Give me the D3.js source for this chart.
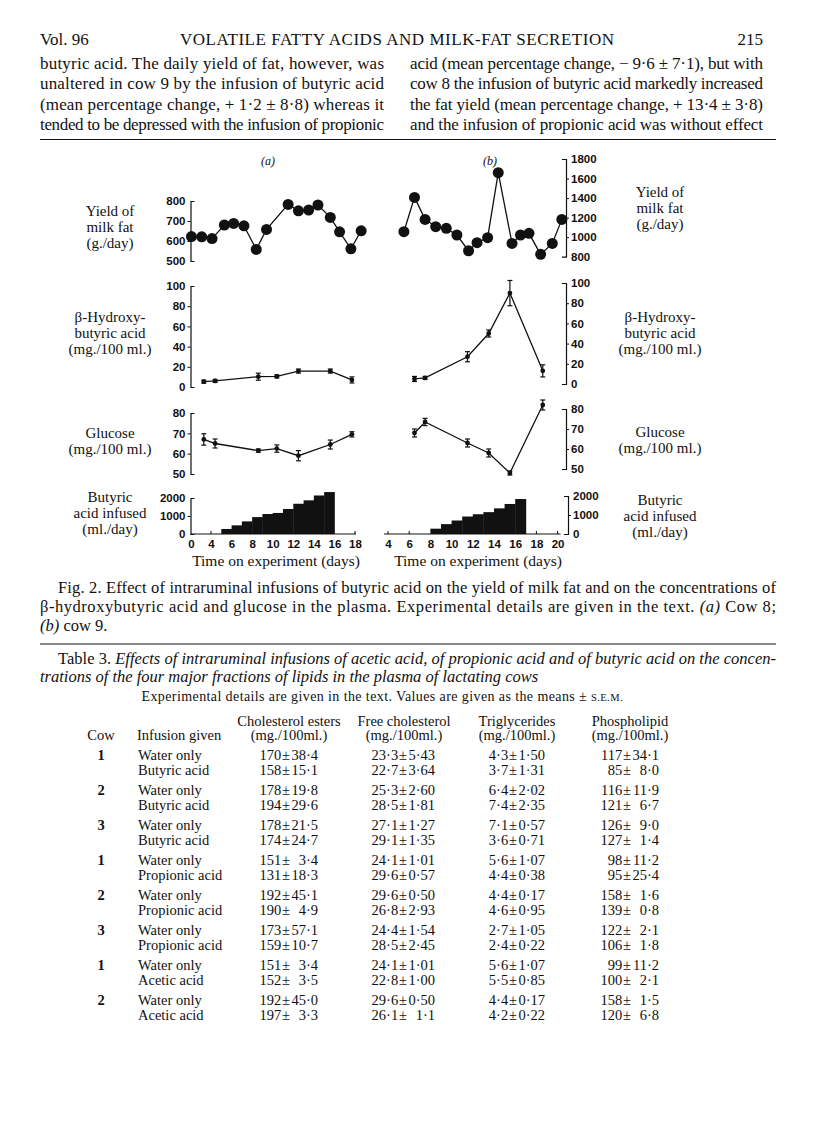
<!DOCTYPE html>
<html>
<head>
<meta charset="utf-8">
<script src="https://cdn.jsdelivr.net/npm/d3@7"></script>
<style>
  body { margin: 0; background: #fff; }
  text { fill: #111; }
  .serif { font-family: "Liberation Serif", "Times New Roman", serif; }
  .tick text { font-family: "Liberation Sans", Arial, sans-serif; font-weight: bold; font-size: 11.5px; fill: #111; }
  .domain, .tick line { stroke: #111; }
</style>
</head>
<body>
<svg id="page" width="816" height="1138"></svg>
<script>
/*
  Page 215, Vol. 96: running text, Fig. 2 (cows 8 and 9) and Table 3.
  Values of the figure.
*/

// ---- Fig. 2 (a), cow 8 ----
const yieldDaysA = [2.1, 3.1, 4.1, 5.3, 6.2, 7.2, 8.4, 9.4, 11.5, 12.5, 13.5, 14.4, 15.6, 16.5, 17.6, 18.6];
const yieldA = [622, 621, 612, 680, 688, 676, 558, 658, 783, 751, 755, 780, 718, 646, 561, 651];
const plasmaDaysA = [3.3, 4.4, 8.6, 10.4, 12.5, 15.6, 17.7];
const hydroxyA = [5.3, 6, 10.2, 10.5, 15.8, 15.8, 7];
const hydroxyErrA = [1.5, 1.5, 3.5, 1.5, 2, 2, 3];
const glucoseA = [67, 65, 61.5, 62.5, 59, 64.5, 69.5];
const glucoseErrA = [2.8, 2.2, 0.8, 1.8, 2.5, 2.2, 1.3];
const infusionDaysA = [5, 6, 7, 8, 9, 10, 11, 12, 13, 14, 15];
const infusedA = [280, 480, 700, 940, 1110, 1170, 1390, 1680, 1870, 2140, 2330];

// ---- Fig. 2 (b), cow 9 ----
const yieldDaysB = [5.5, 6.5, 7.5, 8.5, 9.5, 10.5, 11.6, 12.4, 13.4, 14.4, 15.7, 16.5, 17.3, 18.4, 19.5, 20.4];
const yieldB = [1056, 1407, 1182, 1107, 1090, 1022, 861, 943, 995, 1660, 936, 1022, 1039, 824, 936, 1182];
const plasmaDaysB = [6.5, 7.5, 11.5, 13.5, 15.5, 18.6];
const hydroxyB = [5, 6, 27, 50, 90, 13];
const hydroxyErrB = [2.5, 1.5, 5, 3.5, 12.5, 6];
const glucoseB = [68, 73.5, 63, 58, 48, 82];
const glucoseErrB = [2, 1.8, 2, 2, 1, 2.5];
const infusionDaysB = [8, 9, 10, 11, 12, 13, 14, 15, 16];
const infusedB = [280, 520, 710, 920, 1040, 1150, 1350, 1580, 1840];

// ---- tick labels ----
const dayTicksA = [4, 6, 8, 10, 12, 14, 16, 18];
const dayTicksB = [4, 6, 8, 10, 12, 14, 16, 18, 20];
const upTicksA = [4, 18];
const upTicksB = [4, 6, 18, 20];
const yieldTicksA = [500, 600, 700, 800];
const yieldTicksB = [800, 1000, 1200, 1400, 1600, 1800];
const hydroxyTicks = [0, 20, 40, 60, 80, 100];
const glucoseTicks = [50, 60, 70, 80];
const infusedTicks = [0, 1000, 2000];

// ---- text ----
const bodyLeft = [
  'butyric acid. The daily yield of fat, however, was',
  'unaltered in cow 9 by the infusion of butyric acid',
  '(mean percentage change, + 1·2 ± 8·8) whereas it',
  'tended to be depressed with the infusion of propionic'
];
const bodyRight = [
  'acid (mean percentage change, − 9·6 ± 7·1), but with',
  'cow 8 the infusion of butyric acid markedly increased',
  'the fat yield (mean percentage change, + 13·4 ± 3·8)',
  'and the infusion of propionic acid was without effect'
];
const labelsLeft = [
  ['Yield of', 'milk fat', '(g./day)'],
  ['β-Hydroxy-', 'butyric acid', '(mg./100 ml.)'],
  ['Glucose', '(mg./100 ml.)'],
  ['Butyric', 'acid infused', '(ml./day)']
];

// ---- Table 3 ----
const tableColumns = ['Cholesterol esters', 'Free cholesterol', 'Triglycerides', 'Phospholipid'];
const tableUnits = '(mg./100ml.)';
const rowCow = ['1', '', '2', '', '3', '', '1', '', '2', '', '3', '', '1', '', '2', ''];
const rowInfusion = ['Water only', 'Butyric acid', 'Water only', 'Butyric acid', 'Water only', 'Butyric acid',
  'Water only', 'Propionic acid', 'Water only', 'Propionic acid', 'Water only', 'Propionic acid',
  'Water only', 'Acetic acid', 'Water only', 'Acetic acid'];
const cholEstersMean = ['170', '158', '178', '194', '178', '174', '151', '131', '192', '190', '173', '159', '151', '152', '192', '197'];
const cholEstersSem = ['38·4', '15·1', '19·8', '29·6', '21·5', '24·7', '3·4', '18·3', '45·1', '4·9', '57·1', '10·7', '3·4', '3·5', '45·0', '3·3'];
const freeCholMean = ['23·3', '22·7', '25·3', '28·5', '27·1', '29·1', '24·1', '29·6', '29·6', '26·8', '24·4', '28·5', '24·1', '22·8', '29·6', '26·1'];
const freeCholSem = ['5·43', '3·64', '2·60', '1·81', '1·27', '1·35', '1·01', '0·57', '0·50', '2·93', '1·54', '2·45', '1·01', '1·00', '0·50', '1·1'];
const trigMean = ['4·3', '3·7', '6·4', '7·4', '7·1', '3·6', '5·6', '4·4', '4·4', '4·6', '2·7', '2·4', '5·6', '5·5', '4·4', '4·2'];
const trigSem = ['1·50', '1·31', '2·02', '2·35', '0·57', '0·71', '1·07', '0·38', '0·17', '0·95', '1·05', '0·22', '1·07', '0·85', '0·17', '0·22'];
const phosMean = ['117', '85', '116', '121', '126', '127', '98', '95', '158', '139', '122', '106', '99', '100', '158', '120'];
const phosSem = ['34·1', '8·0', '11·9', '6·7', '9·0', '1·4', '11·2', '25·4', '1·6', '0·8', '2·1', '1·8', '11·2', '2·1', '1·5', '6·8'];


const dom = {};
dom.svg = d3.select('#page');

/**
 * Plain serif text line, optionally stretched to a justified width
 */
function addText(x, y, str, size, o = {}) {
  const t = dom.svg.append('text')
    .attr('class', 'serif')
    .attr('x', x)
    .attr('y', y)
    .attr('font-size', size)
    .attr('text-anchor', o.anchor || 'start')
    .text(str);
  if (o.width) t.attr('textLength', o.width).attr('lengthAdjust', 'spacing');
  if (o.italic) t.attr('font-style', 'italic');
  if (o.weight) t.attr('font-weight', o.weight);
  return t;
}

function rule(y) {
  dom.svg.append('line')
    .attr('x1', 40).attr('x2', 776)
    .attr('y1', y).attr('y2', y)
    .attr('stroke', '#111').attr('stroke-width', 1);
}

/*
 * Running head and body text
 */
addText(40, 45, 'Vol. 96', 17);
addText(397, 45, 'VOLATILE FATTY ACIDS AND MILK-FAT SECRETION', 17, { anchor: 'middle', width: 434 });
addText(763, 45, '215', 17, { anchor: 'end' });

bodyLeft.forEach((s, i) => addText(40, 69 + i * 20.3, s, 17, { width: 344 }));
bodyRight.forEach((s, i) => addText(410, 69 + i * 20.3, s, 17, { width: 353 }));
rule(139.5);


/**
 * Scales
 */
const scale = {};
scale.xA = d3.scaleLinear().domain([4, 18]).range([211, 355]);
scale.xB = d3.scaleLinear().domain([4, 20]).range([388, 557.6]);

scale.yieldA = d3.scaleLinear().domain([500, 800]).range([261, 201]);
scale.yieldB = d3.scaleLinear().domain([800, 1800]).range([256.7, 159]);
scale.hydroxyA = d3.scaleLinear().domain([0, 100]).range([387, 286]);
scale.hydroxyB = d3.scaleLinear().domain([0, 100]).range([384, 283]);
scale.glucoseA = d3.scaleLinear().domain([50, 80]).range([474, 413]);
scale.glucoseB = d3.scaleLinear().domain([50, 80]).range([469, 409]);
scale.infusedA = d3.scaleLinear().domain([0, 2000]).range([534, 498]);
scale.infusedB = d3.scaleLinear().domain([0, 2000]).range([534, 496]);

const AXIS_A = 190.5;
const AXIS_B = 566;
const BASE_Y = 534;

dom.fig = dom.svg.append('g');


/**
 * Bracket shaped value axis: end ticks turn towards the plot
 */
function drawYAxis(sc, ticks, side, x) {
  const ax = (side === 'left' ? d3.axisLeft(sc) : d3.axisRight(sc))
    .tickValues(ticks)
    .tickSize(3)
    .tickSizeOuter(-4)
    .tickPadding(2)
    .tickFormat(d3.format('d'));
  const g = dom.fig.append('g')
    .attr('transform', `translate(${x},0)`)
    .call(ax);
  g.select('.domain').attr('stroke-width', 1.2);
  g.selectAll('.tick line')
    .filter(d => d === ticks[0] || d === ticks[ticks.length - 1])
    .remove();
  return g;
}


/**
 * Connected points, with optional s.e.m. bars
 */
function drawSeries(xs, ys, days, values, errs, r) {
  const pts = days.map((d, i) => ({ day: d, v: values[i], e: errs ? errs[i] : 0 }));
  const line = d3.line().x(p => xs(p.day)).y(p => ys(p.v));

  dom.fig.append('path')
    .datum(pts)
    .attr('d', line)
    .attr('fill', 'none')
    .attr('stroke', '#111')
    .attr('stroke-width', 1.3);

  if (errs) {
    const eb = dom.fig.append('g').attr('stroke', '#111').attr('stroke-width', 1.2);
    pts.forEach(p => {
      const cx = xs(p.day);
      eb.append('line').attr('x1', cx).attr('x2', cx).attr('y1', ys(p.v - p.e)).attr('y2', ys(p.v + p.e));
      [p.v - p.e, p.v + p.e].forEach(v => {
        eb.append('line').attr('x1', cx - 2.5).attr('x2', cx + 2.5).attr('y1', ys(v)).attr('y2', ys(v));
      });
    });
  }

  dom.fig.append('g')
    .selectAll('circle')
    .data(pts)
    .enter()
    .append('circle')
    .attr('cx', p => xs(p.day))
    .attr('cy', p => ys(p.v))
    .attr('r', r)
    .attr('fill', '#111');
}


/**
 * Black step bars, one per day of infusion
 */
function drawInfusion(xs, ys, days, values) {
  dom.fig.append('g')
    .selectAll('rect')
    .data(days.map((d, i) => ({ day: d, v: values[i] })))
    .enter()
    .append('rect')
    .attr('x', p => xs(p.day))
    .attr('width', p => xs(p.day + 1) - xs(p.day) + 0.4)
    .attr('y', p => ys(p.v))
    .attr('height', p => ys(0) - ys(p.v))
    .attr('fill', '#111');
}


/**
 * Time axis along the bottom of the infusion panel
 */
function drawTimeAxis(xs, ticks, upTicks, x0, x1) {
  const g = dom.fig.append('g')
    .attr('transform', `translate(0,${BASE_Y})`)
    .call(d3.axisBottom(xs).tickValues(ticks).tickSize(0).tickPadding(6));
  g.select('.domain').remove();
  g.append('line')
    .attr('x1', x0).attr('x2', x1)
    .attr('stroke', '#111').attr('stroke-width', 1.2);
  upTicks.forEach(t => {
    g.append('line')
      .attr('x1', xs(t)).attr('x2', xs(t))
      .attr('y1', 0).attr('y2', -3)
      .attr('stroke', '#111').attr('stroke-width', 1);
  });
  return g;
}


// panel (a)
drawYAxis(scale.yieldA, yieldTicksA, 'left', AXIS_A);
drawYAxis(scale.hydroxyA, hydroxyTicks, 'left', AXIS_A);
drawYAxis(scale.glucoseA, glucoseTicks, 'left', AXIS_A);
drawYAxis(scale.infusedA, infusedTicks, 'left', AXIS_A);
drawSeries(scale.xA, scale.yieldA, yieldDaysA, yieldA, null, 5.5);
drawSeries(scale.xA, scale.hydroxyA, plasmaDaysA, hydroxyA, hydroxyErrA, 2.4);
drawSeries(scale.xA, scale.glucoseA, plasmaDaysA, glucoseA, glucoseErrA, 2.4);
drawInfusion(scale.xA, scale.infusedA, infusionDaysA, infusedA);
const timeA = drawTimeAxis(scale.xA, dayTicksA, upTicksA, AXIS_A, scale.xA(18) + 1);
// first label marks the start of the broken axis
timeA.append('text')
  .attr('x', AXIS_A + 1).attr('y', 6).attr('dy', '0.71em')
  .attr('text-anchor', 'middle')
  .attr('font-family', '"Liberation Sans", Arial, sans-serif')
  .attr('font-weight', 'bold').attr('font-size', 11.5)
  .attr('fill', '#111')
  .text('0');

// panel (b)
drawYAxis(scale.yieldB, yieldTicksB, 'right', AXIS_B);
drawYAxis(scale.hydroxyB, hydroxyTicks, 'right', AXIS_B);
drawYAxis(scale.glucoseB, glucoseTicks, 'right', AXIS_B);
drawYAxis(scale.infusedB, infusedTicks, 'right', AXIS_B + 2);
drawSeries(scale.xB, scale.yieldB, yieldDaysB, yieldB, null, 5.5);
drawSeries(scale.xB, scale.hydroxyB, plasmaDaysB, hydroxyB, hydroxyErrB, 2.4);
drawSeries(scale.xB, scale.glucoseB, plasmaDaysB, glucoseB, glucoseErrB, 2.4);
drawInfusion(scale.xB, scale.infusedB, infusionDaysB, infusedB);
drawTimeAxis(scale.xB, dayTicksB, upTicksB, scale.xB(4) - 4, scale.xB(20) + 3);

// panel letters and side labels
addText(268, 165, '(a)', 12, { anchor: 'middle', italic: true });
addText(490, 165, '(b)', 12, { anchor: 'middle', italic: true });

const leftLabelY = [216, 322, 438, 502];
const rightLabelY = [197, 322, 437, 505];
labelsLeft.forEach((lines, k) => {
  lines.forEach((s, i) => {
    addText(110, leftLabelY[k] + i * 16, s, 15, { anchor: 'middle' });
    addText(660, rightLabelY[k] + i * 16, s, 15, { anchor: 'middle' });
  });
});

addText(276, 566, 'Time on experiment (days)', 15.5, { anchor: 'middle' });
addText(478, 566, 'Time on experiment (days)', 15.5, { anchor: 'middle' });


/*
 * Caption
 */
addText(58, 593, 'Fig. 2. Effect of intraruminal infusions of butyric acid on the yield of milk fat and on the concentrations of', 16.5, { width: 718 });
const cap2 = addText(40, 612, '', 16.5, { width: 736 });
cap2.append('tspan').text('β-hydroxybutyric acid and glucose in the plasma. Experimental details are given in the text. ');
cap2.append('tspan').attr('font-style', 'italic').text('(a)');
cap2.append('tspan').text(' Cow 8;');
const cap3 = addText(40, 631, '', 16.5);
cap3.append('tspan').attr('font-style', 'italic').text('(b)');
cap3.append('tspan').text(' cow 9.');

rule(644);


/*
 * Table 3
 */
const t1 = addText(58, 664, '', 16.5, { width: 718 });
t1.append('tspan').text('Table 3. ');
t1.append('tspan').attr('font-style', 'italic')
  .text('Effects of intraruminal infusions of acetic acid, of propionic acid and of butyric acid on the concen-');
addText(40, 682, 'trations of the four major fractions of lipids in the plasma of lactating cows', 16.5, { italic: true });

const sub = addText(382, 701, '', 14, { anchor: 'middle', width: 481 });
sub.append('tspan').text('Experimental details are given in the text. Values are given as the means ± ');
sub.append('tspan').attr('font-size', 10.5).text('S.E.M.');

const TSIZE = 14.5;
const GAP = 4.8;
// column geometry: centre of header, position of the ± sign, right edge of the s.e.m.
const colGeom = [
  { center: 289, pm: 286, end: 318 },
  { center: 404, pm: 403, end: 435 },
  { center: 517, pm: 513, end: 545 },
  { center: 630, pm: 627, end: 659 }
];
const colMeans = [cholEstersMean, freeCholMean, trigMean, phosMean];
const colSems = [cholEstersSem, freeCholSem, trigSem, phosSem];

tableColumns.forEach((c, j) => {
  addText(colGeom[j].center, 726, c, TSIZE, { anchor: 'middle' });
  addText(colGeom[j].center, 740, tableUnits, TSIZE, { anchor: 'middle' });
});
addText(101, 740, 'Cow', TSIZE, { anchor: 'middle' });
addText(137, 740, 'Infusion given', TSIZE);

const rowY = [760, 775, 795, 810, 830, 845, 865, 880, 900, 915, 935, 950, 970, 985, 1005, 1020];
rowInfusion.forEach((s, i) => {
  const y = rowY[i];
  if (rowCow[i]) addText(101, y, rowCow[i], TSIZE, { anchor: 'middle', weight: 'bold' });
  addText(138, y, s, TSIZE);
  colGeom.forEach((g, j) => {
    addText(g.pm - GAP, y, colMeans[j][i], TSIZE, { anchor: 'end' });
    addText(g.pm, y, '±', TSIZE, { anchor: 'middle' });
    addText(g.end, y, colSems[j][i], TSIZE, { anchor: 'end' });
  });
});
</script>
</body>
</html>
